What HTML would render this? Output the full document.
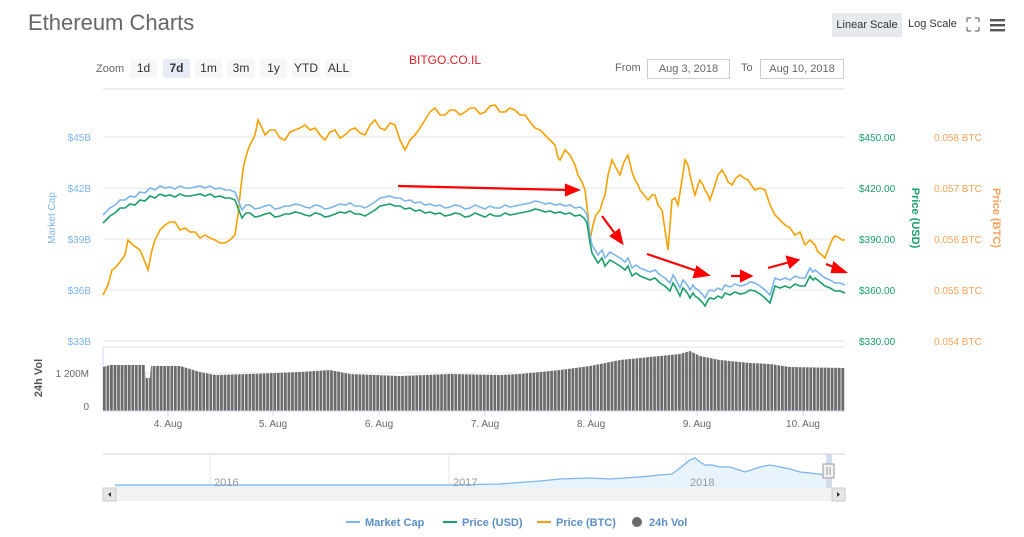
<!DOCTYPE html>
<html><head><meta charset="utf-8"><style>
body{margin:0;width:1024px;height:537px;background:#fff;font-family:"Liberation Sans",sans-serif;overflow:hidden;position:relative}
.t{position:absolute;white-space:nowrap}
.btn{position:absolute;top:59px;height:19px;background:#f7f7f7;font-size:12px;color:#333;text-align:center;line-height:19px;border-radius:2px}
</style></head><body>
<div class="t" style="left:28px;top:10px;font-size:22px;color:#666">Ethereum Charts</div>
<div class="t" style="left:832px;top:13px;width:70px;height:24px;background:#e6e9ed;font-size:11px;color:#333;line-height:24px;text-align:center">Linear Scale</div>
<div class="t" style="left:908px;top:18px;font-size:11px;color:#333">Log Scale</div>
<svg class="t" style="left:966px;top:17px" width="50" height="16"><path d="M1 1l4 0M1 1l0 4M13 1l-4 0M13 1l0 4M1 14l4 0M1 14l0-4M13 14l-4 0M13 14l0-4" stroke="#888" stroke-width="1.5"/><rect x="24" y="2" width="15" height="2.4" fill="#555"/><rect x="24" y="7" width="15" height="2.4" fill="#555"/><rect x="24" y="12" width="15" height="2.4" fill="#555"/></svg>
<div class="t" style="left:96px;top:63px;font-size:11px;color:#666">Zoom</div>
<div class="btn" style="left:130px;width:27px">1d</div>
<div class="btn" style="left:163px;width:27px;background:#e6ebf5;font-weight:bold">7d</div>
<div class="btn" style="left:195px;width:27px">1m</div>
<div class="btn" style="left:227px;width:28px">3m</div>
<div class="btn" style="left:260px;width:27px">1y</div>
<div class="btn" style="left:292px;width:28px">YTD</div>
<div class="btn" style="left:325px;width:27px">ALL</div>
<div class="t" style="left:409px;top:53px;font-size:12px;color:#e0202a">BITGO.CO.IL</div>
<div class="t" style="left:615px;top:62px;font-size:11px;color:#666">From</div>
<div class="t" style="left:647px;top:59px;width:81px;height:18px;border:1px solid #ccc;font-size:11px;color:#666;line-height:18px;text-align:center">Aug 3, 2018</div>
<div class="t" style="left:741px;top:62px;font-size:11px;color:#666">To</div>
<div class="t" style="left:760px;top:59px;width:82px;height:18px;border:1px solid #ccc;font-size:11px;color:#666;line-height:18px;text-align:center">Aug 10, 2018</div>
<svg class="t" style="left:0;top:0" width="1024" height="537" font-family="Liberation Sans, sans-serif" font-size="10">
<defs><pattern id="bars" width="3.55" height="10" patternUnits="userSpaceOnUse"><rect width="2.8" height="10" fill="#6b6b6b"/></pattern></defs>
<line x1="103" y1="89" x2="845" y2="89" stroke="#eee" stroke-width="2"/>
<g stroke="#e6e6e6"><line x1="103" y1="137" x2="845" y2="137"/><line x1="103" y1="188" x2="845" y2="188"/><line x1="103" y1="239" x2="845" y2="239"/><line x1="103" y1="290" x2="845" y2="290"/><line x1="103" y1="341" x2="845" y2="341"/><line x1="103" y1="347" x2="845" y2="347"/><line x1="103" y1="373" x2="845" y2="373"/></g>
<g fill="#7cb5ec" text-anchor="end"><text x="91" y="141">$45B</text><text x="91" y="192">$42B</text><text x="91" y="243">$39B</text><text x="91" y="294">$36B</text><text x="91" y="345">$33B</text></g>
<g fill="#1a9e6b"><text x="859" y="141">$450.00</text><text x="859" y="192">$420.00</text><text x="859" y="243">$390.00</text><text x="859" y="294">$360.00</text><text x="859" y="345">$330.00</text></g>
<g fill="#f7a35c"><text x="934" y="141">0.058 BTC</text><text x="934" y="192">0.057 BTC</text><text x="934" y="243">0.056 BTC</text><text x="934" y="294">0.055 BTC</text><text x="934" y="345">0.054 BTC</text></g>
<text transform="translate(55,218) rotate(-90)" fill="#7cb5ec" text-anchor="middle">Market Cap</text>
<text transform="translate(912,218) rotate(90)" fill="#1a9e6b" font-weight="bold" text-anchor="middle" font-size="11">Price (USD)</text>
<text transform="translate(993,218) rotate(90)" fill="#f7a35c" font-weight="bold" text-anchor="middle" font-size="11">Price (BTC)</text>
<text transform="translate(42,378) rotate(-90)" fill="#555" font-weight="bold" text-anchor="middle" font-size="11">24h Vol</text>
<g fill="#666" text-anchor="end"><text x="89" y="377">1 200M</text><text x="89" y="410">0</text></g>
<line x1="103" y1="347" x2="103" y2="410" stroke="#ccd6eb"/>
<polygon fill="url(#bars)" points="103,367 110,365 145,365 146,378 150,378 151,366 180,366 200,372 215,375 250,374 300,372 330,370 350,374 400,376 450,374 500,375 520,374 560,370 590,366 620,360 640,358 660,356 680,354 690,351 700,356 720,360 750,363 770,364 790,367 845,368 845,411 103,411"/>
<line x1="103" y1="411" x2="845" y2="411" stroke="#ccd6eb"/>
<g stroke="#ccd6eb"><line x1="168" y1="411" x2="168" y2="416"/><line x1="273" y1="411" x2="273" y2="416"/><line x1="379" y1="411" x2="379" y2="416"/><line x1="485" y1="411" x2="485" y2="416"/><line x1="591" y1="411" x2="591" y2="416"/><line x1="697" y1="411" x2="697" y2="416"/><line x1="803" y1="411" x2="803" y2="416"/></g>
<g fill="#666" text-anchor="middle"><text x="168" y="427">4. Aug</text><text x="273" y="427">5. Aug</text><text x="379" y="427">6. Aug</text><text x="485" y="427">7. Aug</text><text x="591" y="427">8. Aug</text><text x="697" y="427">9. Aug</text><text x="803" y="427">10. Aug</text></g>
<polyline fill="none" stroke="#f7a000" stroke-width="1.6" points="103,295 108,285 112,270 115,268 120,262 125,255 128,240 133,245 140,250 145,262 148,270 152,250 155,240 160,230 165,225 170,222 175,222 180,230 185,228 190,232 195,232 200,238 205,235 210,238 215,240 220,243 225,243 230,240 235,235 238,215 240,195 243,170 245,160 248,150 250,145 255,135 258,120 262,128 265,135 270,130 275,130 280,138 285,140 290,132 295,130 300,128 305,125 310,130 315,128 320,135 325,140 330,132 335,130 340,138 345,135 350,130 355,128 360,133 365,135 370,125 375,120 380,128 385,130 390,123 395,125 400,140 405,150 410,140 415,135 420,128 425,120 430,112 435,108 440,115 445,115 450,110 455,110 460,115 465,112 470,108 475,108 480,114 485,112 490,106 495,105 500,112 505,112 510,108 515,110 520,115 525,115 530,122 535,128 540,130 545,135 550,140 555,145 558,158 560,160 565,150 570,155 575,165 578,175 582,182 585,190 588,215 590,240 593,225 596,215 600,210 603,200 605,195 608,175 612,160 616,168 620,175 624,162 628,155 632,172 635,180 638,185 640,190 644,195 648,200 652,195 655,195 658,205 662,210 665,230 668,250 670,225 672,200 675,198 678,205 682,180 685,160 688,165 690,175 693,188 695,195 698,185 700,180 703,185 705,190 708,195 710,200 714,188 718,175 722,170 725,175 728,182 732,185 736,178 740,175 744,178 748,180 752,186 755,190 760,188 765,190 770,205 775,215 780,220 785,225 790,228 795,235 800,232 805,245 810,240 815,245 818,252 822,255 825,258 828,250 832,240 835,236 838,237 842,240 845,240"/>
<polyline fill="none" stroke="#7cb5ec" stroke-width="1.6" points="103,215 110,208 115,205 120,200 125,200 130,196 135,197 140,192 145,193 150,188 155,190 160,186 165,188 170,187 175,189 180,186 185,188 190,188 195,187 200,186 205,188 210,186 215,189 220,188 225,190 230,190 235,192 238,200 242,210 246,205 250,205 255,209 260,208 265,206 270,205 275,209 280,208 285,206 290,206 295,204 300,205 305,207 310,208 315,205 320,206 325,209 330,208 335,206 340,204 345,205 350,203 355,206 360,206 365,208 370,205 375,202 380,198 385,197 390,196 395,198 400,198 405,201 410,200 415,203 420,202 425,205 430,204 435,206 440,205 445,208 450,207 455,205 460,206 465,209 470,208 475,205 480,207 485,209 490,206 495,208 500,208 505,205 510,207 515,206 520,205 525,204 530,203 535,201 540,202 545,204 550,203 555,205 560,204 565,206 570,205 575,208 580,207 584,210 587,215 590,235 592,245 595,250 598,255 602,250 605,258 610,252 615,255 620,258 625,262 628,258 632,268 636,265 640,268 645,270 650,272 655,270 660,275 665,278 670,283 673,275 675,278 678,284 680,288 683,280 685,282 688,286 690,290 693,285 695,288 698,290 700,292 703,295 705,298 708,292 710,290 714,291 718,288 722,290 725,285 730,287 735,284 740,286 745,285 750,282 755,283 760,286 765,290 768,293 770,295 773,285 775,278 780,280 785,278 790,280 795,276 800,278 805,278 808,272 810,268 813,272 815,270 820,274 825,278 830,280 835,283 840,283 845,285"/>
<polyline fill="none" stroke="#1a9e6b" stroke-width="1.6" transform="translate(0,8)" points="103,215 110,208 115,205 120,200 125,200 130,196 135,197 140,192 145,193 150,188 155,190 160,186 165,188 170,187 175,189 180,186 185,188 190,188 195,187 200,186 205,188 210,186 215,189 220,188 225,190 230,190 235,192 238,200 242,210 246,205 250,205 255,209 260,208 265,206 270,205 275,209 280,208 285,206 290,206 295,204 300,205 305,207 310,208 315,205 320,206 325,209 330,208 335,206 340,204 345,205 350,203 355,206 360,206 365,208 370,205 375,202 380,198 385,197 390,196 395,198 400,198 405,201 410,200 415,203 420,202 425,205 430,204 435,206 440,205 445,208 450,207 455,205 460,206 465,209 470,208 475,205 480,207 485,209 490,206 495,208 500,208 505,205 510,207 515,206 520,205 525,204 530,203 535,201 540,202 545,204 550,203 555,205 560,204 565,206 570,205 575,208 580,207 584,210 587,215 590,235 592,245 595,250 598,255 602,250 605,258 610,252 615,255 620,258 625,262 628,258 632,268 636,265 640,268 645,270 650,272 655,270 660,275 665,278 670,283 673,275 675,278 678,284 680,288 683,280 685,282 688,286 690,290 693,285 695,288 698,290 700,292 703,295 705,298 708,292 710,290 714,291 718,288 722,290 725,285 730,287 735,284 740,286 745,285 750,282 755,283 760,286 765,290 768,293 770,295 773,285 775,278 780,280 785,278 790,280 795,276 800,278 805,278 808,272 810,268 813,272 815,270 820,274 825,278 830,280 835,283 840,283 845,285"/>
<g stroke="#f00" stroke-width="2.2" fill="#f00">
<line x1="398" y1="186" x2="568" y2="190"/><polygon points="578,190 566,185 566,195"/>
<line x1="602" y1="216" x2="616" y2="235"/><polygon points="622,243 611,236 619,230"/>
<line x1="647" y1="254" x2="700" y2="272"/><polygon points="708,275 697,267 694,277"/>
<line x1="731" y1="276" x2="742" y2="276"/><polygon points="751,276 741,271 741,281"/>
<line x1="768" y1="268" x2="790" y2="262"/><polygon points="798,260 787,257 790,267"/>
<line x1="826" y1="264" x2="836" y2="268"/><polygon points="845,272 834,263 832,272"/>
</g>
<line x1="103" y1="454" x2="845" y2="454" stroke="#ddd" stroke-width="1.5"/>
<g stroke="#e6e6e6"><line x1="210" y1="454" x2="210" y2="488"/><line x1="449" y1="454" x2="449" y2="488"/><line x1="686" y1="454" x2="686" y2="488"/></g>
<polygon fill="#e8f3fc" points="115,485 300,485 450,485 500,484 540,481 560,479 590,478 610,479 640,477 660,475 672,474 680,468 690,460 695,458 700,462 705,465 712,465 720,467 730,467 745,472 760,467 770,465 780,467 790,469 800,472 810,473 826,475 826,488 115,488"/>
<polyline fill="none" stroke="#7cb5ec" stroke-width="1.3" points="115,485 300,485 450,485 500,484 540,481 560,479 590,478 610,479 640,477 660,475 672,474 680,468 690,460 695,458 700,462 705,465 712,465 720,467 730,467 745,472 760,467 770,465 780,467 790,469 800,472 810,473 826,475"/>
<g fill="#999" font-size="11"><text x="214" y="486">2016</text><text x="453" y="486">2017</text><text x="690" y="486">2018</text></g>
<rect x="826" y="454" width="6" height="46" fill="#c8d4ea" opacity="0.8"/>
<rect x="823" y="464" width="11" height="14" fill="#f2f2f2" stroke="#999"/>
<line x1="827" y1="467" x2="827" y2="475" stroke="#999"/><line x1="830" y1="467" x2="830" y2="475" stroke="#999"/>
<rect x="103" y="488" width="742" height="13" fill="#f2f2f2"/>
<rect x="103" y="488" width="13" height="13" fill="#e6e6e6" stroke="#ccc"/><polygon points="111,492 108,494.5 111,497" fill="#333"/>
<rect x="832" y="488" width="13" height="13" fill="#e6e6e6" stroke="#ccc"/><polygon points="837,492 840,494.5 837,497" fill="#333"/>
<g font-size="11" font-weight="bold" fill="#5b8fc7">
<line x1="346" y1="522" x2="360" y2="522" stroke="#7cb5ec" stroke-width="2"/><text x="365" y="526">Market Cap</text>
<line x1="443" y1="522" x2="457" y2="522" stroke="#1a9e6b" stroke-width="2"/><text x="462" y="526">Price (USD)</text>
<line x1="537" y1="522" x2="551" y2="522" stroke="#f7a000" stroke-width="2"/><text x="556" y="526">Price (BTC)</text>
<circle cx="637" cy="522" r="5" fill="#6b6b6b"/><text x="649" y="526">24h Vol</text>
</g>
</svg>
</body></html>
